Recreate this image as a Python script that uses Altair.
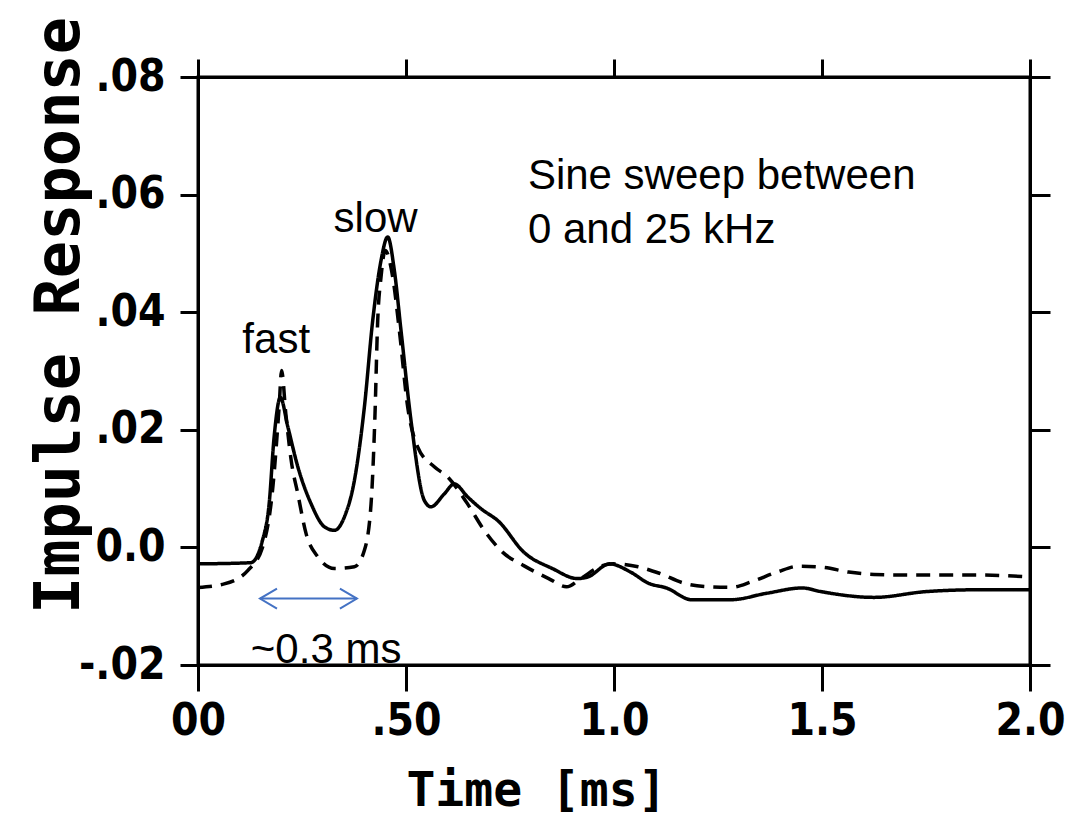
import altair as alt
import pandas as pd

# ---- data ----
solid_t = [0.0, 0.127, 0.155, 0.171, 0.183, 0.198, 0.216, 0.24, 0.272, 0.304, 0.328, 0.352,
           0.376, 0.4, 0.42, 0.44, 0.456, 0.472, 0.488, 0.512, 0.544, 0.56, 0.592, 0.616,
           0.648, 0.68, 0.723, 0.783, 0.852, 0.912, 0.938, 0.989, 1.04, 1.083, 1.126, 1.187,
           1.281, 1.367, 1.453, 1.496, 1.625, 1.753, 1.882, 2.0]
solid_v = [-0.0028, -0.0026, 0.0012, 0.0074, 0.0188, 0.0255, 0.0205, 0.0137, 0.0074, 0.0035,
           0.0029, 0.0052, 0.0114, 0.0239, 0.0386, 0.0488, 0.0528, 0.0471, 0.0369, 0.0216,
           0.008, 0.0069, 0.0091, 0.0108, 0.0086, 0.0066, 0.0044, -0.0008, -0.0036, -0.0053,
           -0.005, -0.0028, -0.0042, -0.0061, -0.0069, -0.0089, -0.0089, -0.0078, -0.0069,
           -0.0075, -0.0085, -0.0075, -0.0072, -0.0072]

dashed_t = [0.0, 0.063, 0.12, 0.155, 0.18, 0.195, 0.201, 0.211, 0.224, 0.24, 0.26, 0.288,
            0.328, 0.376, 0.4, 0.416, 0.425, 0.432, 0.44, 0.45, 0.468, 0.484, 0.504, 0.528,
            0.568, 0.6, 0.648, 0.688, 0.732, 0.783, 0.843, 0.886, 0.92, 0.972, 0.998, 1.058,
            1.109, 1.169, 1.229, 1.281, 1.332, 1.392, 1.444, 1.504, 1.564, 1.625, 1.71, 1.796,
            1.882, 1.99]
dashed_v = [-0.0068, -0.0062, -0.0039, 0.0, 0.0103, 0.0239, 0.0301, 0.0228, 0.0148, 0.0091,
            0.0023, -0.0016, -0.0036, -0.0033, -0.0005, 0.0074, 0.0216, 0.0386, 0.046, 0.0505,
            0.046, 0.0369, 0.0239, 0.0171, 0.0137, 0.012, 0.0074, 0.0029, -0.0008, -0.0031,
            -0.0053, -0.0067, -0.0053, -0.0031, -0.0028, -0.0033, -0.0044, -0.0061, -0.0067,
            -0.0068, -0.0058, -0.0042, -0.0032, -0.0034, -0.0042, -0.0046, -0.0047, -0.0047,
            -0.0047, -0.005]

x_tick_values = [0.0, 0.5, 1.0, 1.5, 2.0]
x_tick_labels = ["00", ".50", "1.0", "1.5", "2.0"]
y_tick_values = [-0.02, 0.0, 0.02, 0.04, 0.06, 0.08]
y_tick_labels = ["-.02", "0.0", ".02", ".04", ".06", ".08"]

# annotations (text, time, value, align)
ann_text = ["fast", "slow", "Sine sweep between", "0 and 25 kHz", "~0.3 ms"]
ann_t = [0.188, 0.427, 0.793, 0.793, 0.308]
ann_v = [0.0331, 0.0536, 0.0610, 0.0518, -0.0196]
ann_align = ["center", "center", "left", "left", "center"]

arrow_t = [0.149, 0.382]
arrow_v = -0.0087

# ---- build ----
df = pd.concat([
    pd.DataFrame({"t": solid_t, "v": solid_v, "series": "solid"}),
    pd.DataFrame({"t": dashed_t, "v": dashed_v, "series": "dashed"}),
])

def label_expr(vals, labs):
    parts = [f"abs(datum.value - ({v})) < 1e-6 ? '{l}'" for v, l in zip(vals, labs)]
    return " : ".join(parts) + " : ''"

xscale = alt.Scale(domain=[0, 2], nice=False, zero=False)
yscale = alt.Scale(domain=[-0.02, 0.08], nice=False, zero=False)

FONT = "DejaVu Sans Mono"
LFONT = "DejaVu Sans Condensed"

lines = alt.Chart(df).mark_line(color="black", strokeWidth=3.5, interpolate="monotone").encode(
    x=alt.X("t:Q", scale=xscale, axis=alt.Axis(
        orient="bottom", values=x_tick_values, labelExpr=label_expr(x_tick_values, x_tick_labels),
        title="Time [ms]", titleX=338, titleY=140, titleAlign="center", titleBaseline="alphabetic",
        titleFont=FONT, titleFontSize=48, titleFontWeight="bold",
        labelFont=LFONT, labelFontSize=44, labelFontWeight="bold", labelPadding=8,
        tickSize=26, labelFlush=False)),
    y=alt.Y("v:Q", scale=yscale, axis=alt.Axis(
        orient="left", values=y_tick_values, labelExpr=label_expr(y_tick_values, y_tick_labels),
        title="Impulse Response", titleX=-120, titleY=238, titleAngle=-90, titleAlign="center",
        titleBaseline="alphabetic", titleFont=FONT, titleFontSize=62, titleFontWeight="bold",
        labelFont=LFONT, labelFontSize=44, labelFontWeight="bold", labelPadding=15,
        tickSize=18, labelFlush=False)),
    detail="series:N",
    strokeDash=alt.StrokeDash("series:N", scale=alt.Scale(domain=["solid", "dashed"],
                                                          range=[[1, 0], [14, 9]]), legend=None),
)

frame = alt.Chart(df).mark_line(strokeOpacity=0).encode(
    x=alt.X("t:Q", scale=xscale, axis=alt.Axis(orient="top", values=x_tick_values, labels=False,
                                                 title=None, tickSize=18)),
    y=alt.Y("v:Q", scale=yscale, axis=alt.Axis(orient="right", values=y_tick_values, labels=False,
                                                 title=None, tickSize=20)),
    detail="series:N",
)

ann_df = pd.DataFrame({"text": ann_text, "t": ann_t, "v": ann_v, "align": ann_align})
texts = []
for al in ["center", "left"]:
    texts.append(alt.Chart(ann_df[ann_df["align"] == al]).mark_text(
        font="Liberation Sans", fontSize=42, align=al, baseline="alphabetic", color="black"
    ).encode(x=alt.X("t:Q", scale=xscale, axis=None),
             y=alt.Y("v:Q", scale=yscale, axis=None), text="text:N"))

ARROW = "#4472C4"
arrow_rule = alt.Chart().mark_rule(color=ARROW, strokeWidth=2).encode(
    x=alt.datum(arrow_t[0], scale=xscale, axis=None), x2=alt.datum(arrow_t[1]),
    y=alt.datum(arrow_v, scale=yscale, axis=None))
head_l = alt.Chart().mark_point(shape="M1.7,-1L0,0L1.7,1", size=400, filled=False,
                                color=ARROW, strokeWidth=2, opacity=1).encode(
    x=alt.datum(arrow_t[0], scale=xscale, axis=None), y=alt.datum(arrow_v, scale=yscale, axis=None))
head_r = alt.Chart().mark_point(shape="M-1.7,-1L0,0L-1.7,1", size=400, filled=False,
                                color=ARROW, strokeWidth=2, opacity=1).encode(
    x=alt.datum(arrow_t[1], scale=xscale, axis=None), y=alt.datum(arrow_v, scale=yscale, axis=None))

chart = alt.layer(lines, frame, *texts, arrow_rule, head_l, head_r).resolve_axis(
    x="independent", y="independent"
).properties(
    width=832, height=588,
    autosize=alt.AutoSizeParams(type="none"),
    padding={"left": 198, "top": 77, "right": 45, "bottom": 153},
    background="white",
).configure_axis(
    grid=False, domainColor="black", domainWidth=3, tickColor="black", tickWidth=3,
    labelColor="black", titleColor="black",
).configure_view(stroke="black", strokeWidth=3)

chart.save("out.html", embed_options={"renderer": "svg", "actions": False})
